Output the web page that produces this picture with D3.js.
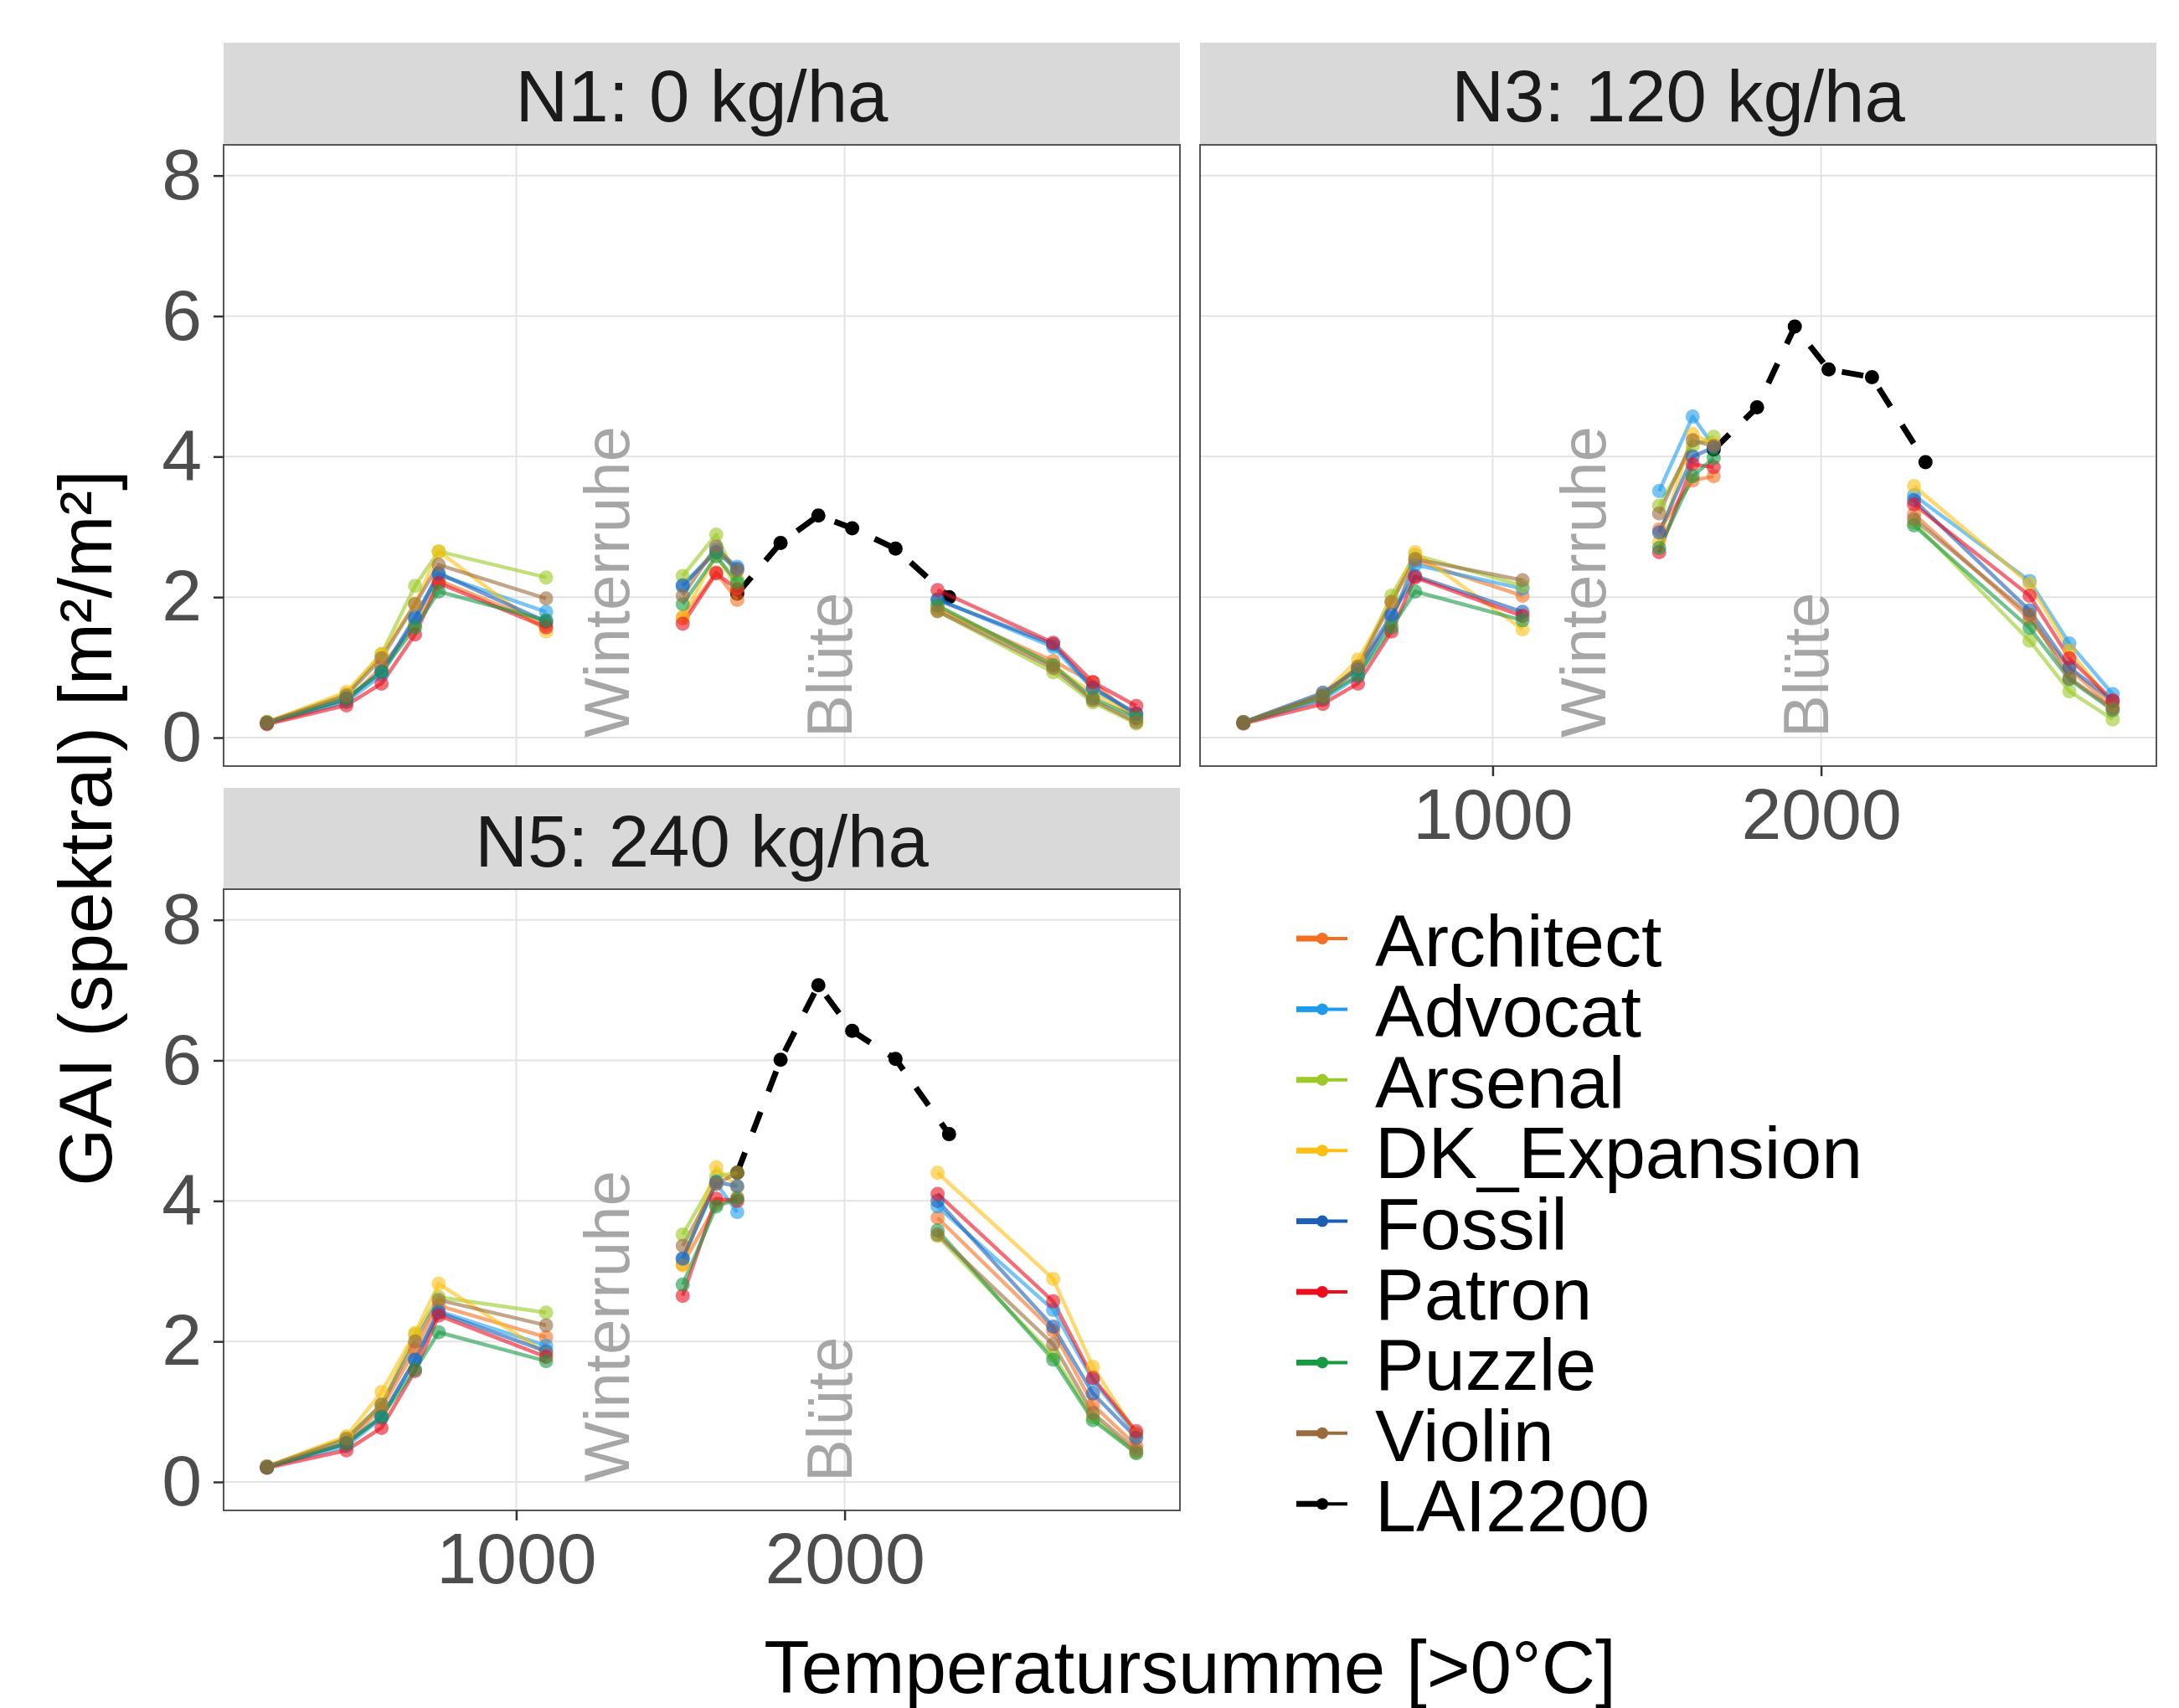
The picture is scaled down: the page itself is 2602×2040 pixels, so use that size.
<!DOCTYPE html>
<html>
<head>
<meta charset="utf-8">
<script src="https://cdn.jsdelivr.net/npm/d3@7"></script>
<style>
  body { margin: 0; background: #fff; }
  text { font-family: "Liberation Sans", Arial, sans-serif; }
</style>
</head>
<body>
<svg width="2602" height="2040"></svg>
<script>
// ---- data ----
const panels = ['N1: 0 kg/ha', 'N3: 120 kg/ha', 'N5: 240 kg/ha'];
const varieties = ['Architect', 'Advocat', 'Arsenal', 'DK_Expansion', 'Fossil', 'Patron', 'Puzzle', 'Violin'];
const colors = ['#F36F21', '#1E9CEB', '#9BC925', '#FDBF12', '#1C5DB5', '#EA0E1E', '#189A44', '#9A6B3C'];

// temperature sums of the spectral measurements and of the LAI2200 measurements
const gddSpec = [241, 483, 590, 692, 764, 1091, 1507, 1609, 1673, 2283, 2635, 2756, 2888];
const gddLai = [1673, 1805, 1920, 2023, 2155, 2318];
// growth phases (index ranges), lines are broken between them
const phases = [[0, 6], [6, 9], [9, 13]];

// GAI per variety (rows in order of varieties)
const gaiN1 = [
  [0.20, 0.51, 1.01, 1.61, 2.24, 1.61, 1.70, 2.35, 1.96, 1.83, 1.09, 0.79, 0.26],
  [0.21, 0.51, 0.89, 1.69, 2.32, 1.79, 2.15, 2.68, 2.43, 1.97, 1.29, 0.69, 0.34],
  [0.22, 0.62, 1.19, 2.16, 2.65, 2.28, 2.30, 2.89, 2.25, 1.80, 0.93, 0.50, 0.20],
  [0.22, 0.65, 1.19, 1.90, 2.65, 1.51, 1.72, 2.60, 2.13, 1.87, 1.02, 0.63, 0.30],
  [0.21, 0.55, 0.94, 1.71, 2.34, 1.65, 2.17, 2.64, 2.40, 1.96, 1.33, 0.71, 0.34],
  [0.19, 0.46, 0.77, 1.47, 2.20, 1.57, 1.62, 2.34, 2.11, 2.10, 1.35, 0.79, 0.45],
  [0.21, 0.56, 0.94, 1.57, 2.08, 1.67, 1.90, 2.58, 2.21, 1.88, 1.03, 0.56, 0.28],
  [0.22, 0.60, 1.13, 1.90, 2.46, 1.98, 2.02, 2.72, 2.38, 1.80, 0.99, 0.53, 0.22]
];
const gaiN3 = [
  [0.21, 0.54, 1.00, 1.65, 2.52, 2.02, 2.96, 3.66, 3.72, 3.18, 1.69, 0.98, 0.43],
  [0.21, 0.54, 0.87, 1.71, 2.46, 2.12, 3.51, 4.57, 4.15, 3.45, 2.23, 1.34, 0.62],
  [0.22, 0.60, 1.01, 2.02, 2.60, 2.16, 3.30, 4.15, 4.28, 3.06, 1.38, 0.66, 0.26],
  [0.22, 0.62, 1.11, 1.93, 2.64, 1.54, 2.79, 4.32, 4.18, 3.58, 2.19, 1.24, 0.47],
  [0.22, 0.64, 0.97, 1.75, 2.30, 1.79, 2.92, 4.00, 4.13, 3.38, 1.81, 1.00, 0.52],
  [0.20, 0.48, 0.77, 1.51, 2.28, 1.73, 2.64, 3.89, 3.85, 3.32, 2.02, 1.13, 0.53],
  [0.21, 0.58, 0.89, 1.57, 2.08, 1.67, 2.70, 3.72, 3.98, 3.02, 1.56, 0.83, 0.39],
  [0.22, 0.60, 1.01, 1.93, 2.54, 2.24, 3.19, 4.23, 4.15, 3.11, 1.75, 0.85, 0.41]
];
const gaiN5 = [
  [0.21, 0.55, 1.05, 1.88, 2.51, 2.06, 3.10, 3.95, 4.05, 3.76, 2.15, 1.10, 0.51],
  [0.21, 0.51, 0.91, 1.74, 2.43, 1.94, 3.18, 4.25, 3.84, 3.92, 2.45, 1.45, 0.68],
  [0.22, 0.63, 1.10, 2.10, 2.63, 2.41, 3.52, 4.35, 4.40, 3.50, 1.80, 0.92, 0.41],
  [0.22, 0.65, 1.28, 2.12, 2.82, 1.83, 3.08, 4.48, 4.20, 4.40, 2.89, 1.64, 0.68],
  [0.21, 0.55, 0.93, 1.74, 2.41, 1.86, 3.18, 4.27, 4.21, 4.00, 2.21, 1.26, 0.63],
  [0.20, 0.45, 0.77, 1.58, 2.37, 1.78, 2.65, 4.03, 4.00, 4.10, 2.57, 1.48, 0.72],
  [0.21, 0.55, 0.93, 1.60, 2.13, 1.72, 2.81, 3.92, 4.03, 3.58, 1.74, 0.88, 0.41],
  [0.22, 0.61, 1.10, 2.00, 2.59, 2.23, 3.36, 4.24, 4.40, 3.52, 1.96, 0.98, 0.45]
];
const laiN1 = [2.05, 2.77, 3.16, 2.98, 2.69, 2.00];
const laiN3 = [4.10, 4.70, 5.85, 5.24, 5.13, 3.92];
const laiN5 = [4.40, 6.01, 7.07, 6.42, 6.02, 4.95];

const xTicks = [1000, 2000];
const yTicks = [0, 2, 4, 6, 8];
const notes = ['Winterruhe', 'Blüte'];
const noteX = [1275, 1953];

// ---- layout ----
const svg = d3.select('svg');
const pw = 1142, ph = 742;

const boxes = [
  { x: 267, y: 173, strip: 51, gai: gaiN1, lai: laiN1, xAxis: false, yAxis: true },
  { x: 1433, y: 173, strip: 51, gai: gaiN3, lai: laiN3, xAxis: true, yAxis: false },
  { x: 267, y: 1062, strip: 941, gai: gaiN5, lai: laiN5, xAxis: true, yAxis: true }
];

const x = d3.scaleLinear().domain([109, 3021]).range([0, pw]);
const y = d3.scaleLinear().domain([-0.405, 8.437]).range([ph, 0]);

const line = d3.line()
  .x(d => x(d[0]))
  .y(d => y(d[1]));

boxes.forEach((b, p) => {
  // strip
  svg.append('rect')
    .attr('x', b.x).attr('y', b.strip)
    .attr('width', pw).attr('height', b.y - b.strip)
    .attr('fill', '#d9d9d9');
  svg.append('text')
    .attr('x', b.x + pw / 2).attr('y', b.strip + 94)
    .attr('text-anchor', 'middle')
    .attr('font-size', 87)
    .attr('fill', '#1a1a1a')
    .text(panels[p]);

  const g = svg.append('g')
    .attr('transform', `translate(${b.x},${b.y})`);

  // grid
  g.selectAll('.gy').data(yTicks).join('line')
    .attr('x1', 0).attr('x2', pw)
    .attr('y1', d => y(d)).attr('y2', d => y(d))
    .attr('stroke', '#e3e3e3').attr('stroke-width', 2);
  g.selectAll('.gx').data(xTicks).join('line')
    .attr('y1', 0).attr('y2', ph)
    .attr('x1', d => x(d)).attr('x2', d => x(d))
    .attr('stroke', '#e3e3e3').attr('stroke-width', 2);

  // annotations
  notes.forEach((t, i) => {
    g.append('text')
      .attr('transform', `translate(${x(noteX[i])},${y(0)}) rotate(-90)`)
      .attr('dy', '0.35em')
      .attr('font-size', 76)
      .attr('fill', '#a6a6a6')
      .text(t);
  });

  // LAI2200 (drawn below the varieties)
  const laiPts = b.lai.map((v, k) => [gddLai[k], v]);
  g.append('path')
    .attr('d', line(laiPts))
    .attr('fill', 'none')
    .attr('stroke', '#000')
    .attr('stroke-width', 7)
    .attr('stroke-dasharray', '26,26');
  g.selectAll(null).data(laiPts).join('circle')
    .attr('cx', d => x(d[0]))
    .attr('cy', d => y(d[1]))
    .attr('r', 8.5)
    .attr('fill', '#000');

  // variety lines
  b.gai.forEach((vals, i) => {
    phases.forEach(([a, e]) => {
      const pts = d3.range(a, e).map(k => [gddSpec[k], vals[k]]);
      g.append('path')
        .attr('d', line(pts))
        .attr('fill', 'none')
        .attr('stroke', colors[i])
        .attr('stroke-width', 4.5)
        .attr('stroke-opacity', 0.6)
        .attr('stroke-linejoin', 'round');
    });
  });
  // variety points
  b.gai.forEach((vals, i) => {
    g.selectAll(null).data(vals).join('circle')
      .attr('cx', (d, k) => x(gddSpec[k]))
      .attr('cy', d => y(d))
      .attr('r', 8.5)
      .attr('fill', colors[i])
      .attr('fill-opacity', 0.6);
  });

  // border
  g.append('rect')
    .attr('width', pw).attr('height', ph)
    .attr('fill', 'none')
    .attr('stroke', '#555').attr('stroke-width', 2);

  // axes
  if (b.yAxis) {
    const ay = g.append('g')
      .call(d3.axisLeft(y).tickValues(yTicks).tickSize(12).tickPadding(14));
    ay.select('.domain').remove();
    ay.selectAll('line').attr('stroke', '#333').attr('stroke-width', 2.5);
    ay.selectAll('text').attr('font-size', 86).attr('fill', '#4d4d4d')
      .attr('font-family', '"Liberation Sans", Arial, sans-serif');
  }
  if (b.xAxis) {
    const ax = g.append('g')
      .attr('transform', `translate(0,${ph})`)
      .call(d3.axisBottom(x).tickValues(xTicks).tickFormat(d3.format('d')).tickSize(12).tickPadding(14));
    ax.select('.domain').remove();
    ax.selectAll('line').attr('stroke', '#333').attr('stroke-width', 2.5);
    ax.selectAll('text').attr('font-size', 86).attr('fill', '#4d4d4d')
      .attr('font-family', '"Liberation Sans", Arial, sans-serif');
  }
});

// axis titles
svg.append('text')
  .attr('x', 1421).attr('y', 2022)
  .attr('text-anchor', 'middle')
  .attr('font-size', 89)
  .attr('fill', '#000')
  .text('Temperatursumme [>0°C]');
svg.append('text')
  .attr('transform', 'translate(133,989) rotate(-90)')
  .attr('text-anchor', 'middle')
  .attr('font-size', 89)
  .attr('fill', '#000')
  .text('GAI (spektral) [m²/m²]');

// legend
const legendNames = varieties.concat(['LAI2200']);
const legendColors = colors.concat(['#000']);
const lg = svg.append('g');
legendNames.forEach((name, i) => {
  const cy = 1121 + i * 84.4;
  lg.append('line')
    .attr('x1', 1548).attr('x2', 1609).attr('y1', cy).attr('y2', cy)
    .attr('stroke', legendColors[i]).attr('stroke-width', 4);
  lg.append('line')
    .attr('x1', 1548).attr('x2', 1579).attr('y1', cy).attr('y2', cy)
    .attr('stroke', legendColors[i]).attr('stroke-width', 7);
  lg.append('circle')
    .attr('cx', 1579).attr('cy', cy).attr('r', 7)
    .attr('fill', legendColors[i]);
  lg.append('text')
    .attr('x', 1642).attr('y', cy + 33)
    .attr('font-size', 88)
    .attr('fill', '#000')
    .text(name);
});
</script>
</body>
</html>
